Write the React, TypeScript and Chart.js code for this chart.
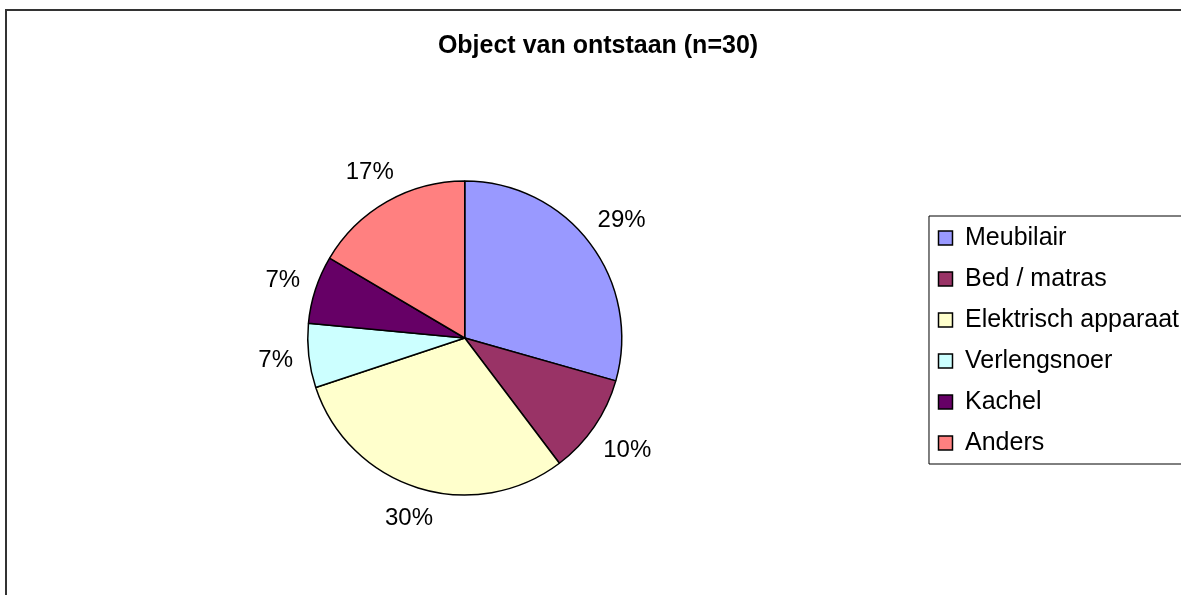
import React, { useEffect, useRef } from "react";
import { Chart, registerables } from "chart.js";

Chart.register(...registerables);

const chartTitle = "Object van ontstaan (n=30)";
const categories = ["Meubilair", "Bed / matras", "Elektrisch apparaat", "Verlengsnoer", "Kachel", "Anders"];
const shares = [29.4, 10.3, 30.2, 6.6, 7.0, 16.5];
const sliceColors = ["#9999FF", "#993366", "#FFFFCC", "#CCFFFF", "#660066", "#FF8080"];

const FONT = "'Liberation Sans', Arial, Helvetica, sans-serif";

const outsideLabels = {
  id: "outsideLabels",
  afterDatasetsDraw(chart: any) {
    const ctx = chart.ctx;
    const meta = chart.getDatasetMeta(0);
    const values: number[] = chart.data.datasets[0].data;
    const total = values.reduce((a, b) => a + b, 0);
    ctx.save();
    ctx.font = `24px ${FONT}`;
    ctx.fillStyle = "#000";
    ctx.textAlign = "center";
    ctx.textBaseline = "middle";
    meta.data.forEach((arc: any, i: number) => {
      const p = arc.getProps(["startAngle", "endAngle", "outerRadius", "x", "y"], true);
      const mid = (p.startAngle + p.endAngle) / 2;
      const text = Math.round((values[i] / total) * 100) + "%";
      const w = ctx.measureText(text).width;
      const h = 18;
      const c = Math.cos(mid);
      const s = Math.sin(mid);
      const dist = p.outerRadius + 15 + Math.abs(c) * w / 2 + Math.abs(s) * h / 2;
      ctx.fillText(text, p.x + c * dist, p.y + s * dist + 1);
    });
    ctx.restore();
  },
};

const legendFrame = {
  id: "legendFrame",
  afterDraw(chart: any) {
    const boxes = chart.legend && chart.legend.legendHitBoxes;
    if (!boxes || !boxes.length) return;
    const ctx = chart.ctx;
    const first = boxes[0];
    const last = boxes[boxes.length - 1];
    const left = first.left - 9.5;
    const top = first.top - 9.5;
    const bottom = last.top + last.height + 8.5;
    ctx.save();
    ctx.strokeStyle = "#000";
    ctx.lineWidth = 1;
    ctx.beginPath();
    ctx.moveTo(chart.width + 5, top);
    ctx.lineTo(left, top);
    ctx.lineTo(left, bottom);
    ctx.lineTo(chart.width + 5, bottom);
    ctx.stroke();
    ctx.restore();
  },
};

export default function App() {
  const ref = useRef<HTMLCanvasElement>(null);
  useEffect(() => {
    document.body.style.margin = "0";
    document.body.style.overflow = "hidden";
    const chart = new Chart(ref.current as HTMLCanvasElement, {
      type: "pie",
      data: {
        labels: categories,
        datasets: [
          {
            data: shares,
            backgroundColor: sliceColors,
            borderColor: "#000",
            borderWidth: 1.5,
          },
        ],
      },
      options: {
        responsive: false,
        animation: false,
        radius: 157,
        layout: { padding: { left: 0, right: 0, top: 0, bottom: 0 } },
        plugins: {
          title: {
            display: true,
            text: chartTitle,
            color: "#000",
            font: { family: FONT, size: 25, weight: "bold" },
            padding: { top: 20, bottom: 4 },
          },
          legend: {
            position: "right",
            align: "center",
            title: {
              display: true,
              text: "",
              font: { family: FONT, size: 10 },
              padding: { top: 23.5, bottom: 23.5 },
            },
            labels: {
              color: "#000",
              font: { family: FONT, size: 25 },
              boxWidth: 14,
              boxHeight: 14,
              padding: 16,
            },
          },
          tooltip: { enabled: false },
        },
      } as any,
      plugins: [outsideLabels, legendFrame],
    });
    return () => chart.destroy();
  }, []);

  return (
    <div
      style={{
        position: "fixed",
        left: 5,
        top: 9,
        width: 1300,
        height: 700,
        borderTop: "2px solid #333",
        borderLeft: "2px solid #333",
        background: "#fff",
      }}
    >
      <canvas ref={ref} width={1182} height={600} style={{ display: "block" }} />
    </div>
  );
}
